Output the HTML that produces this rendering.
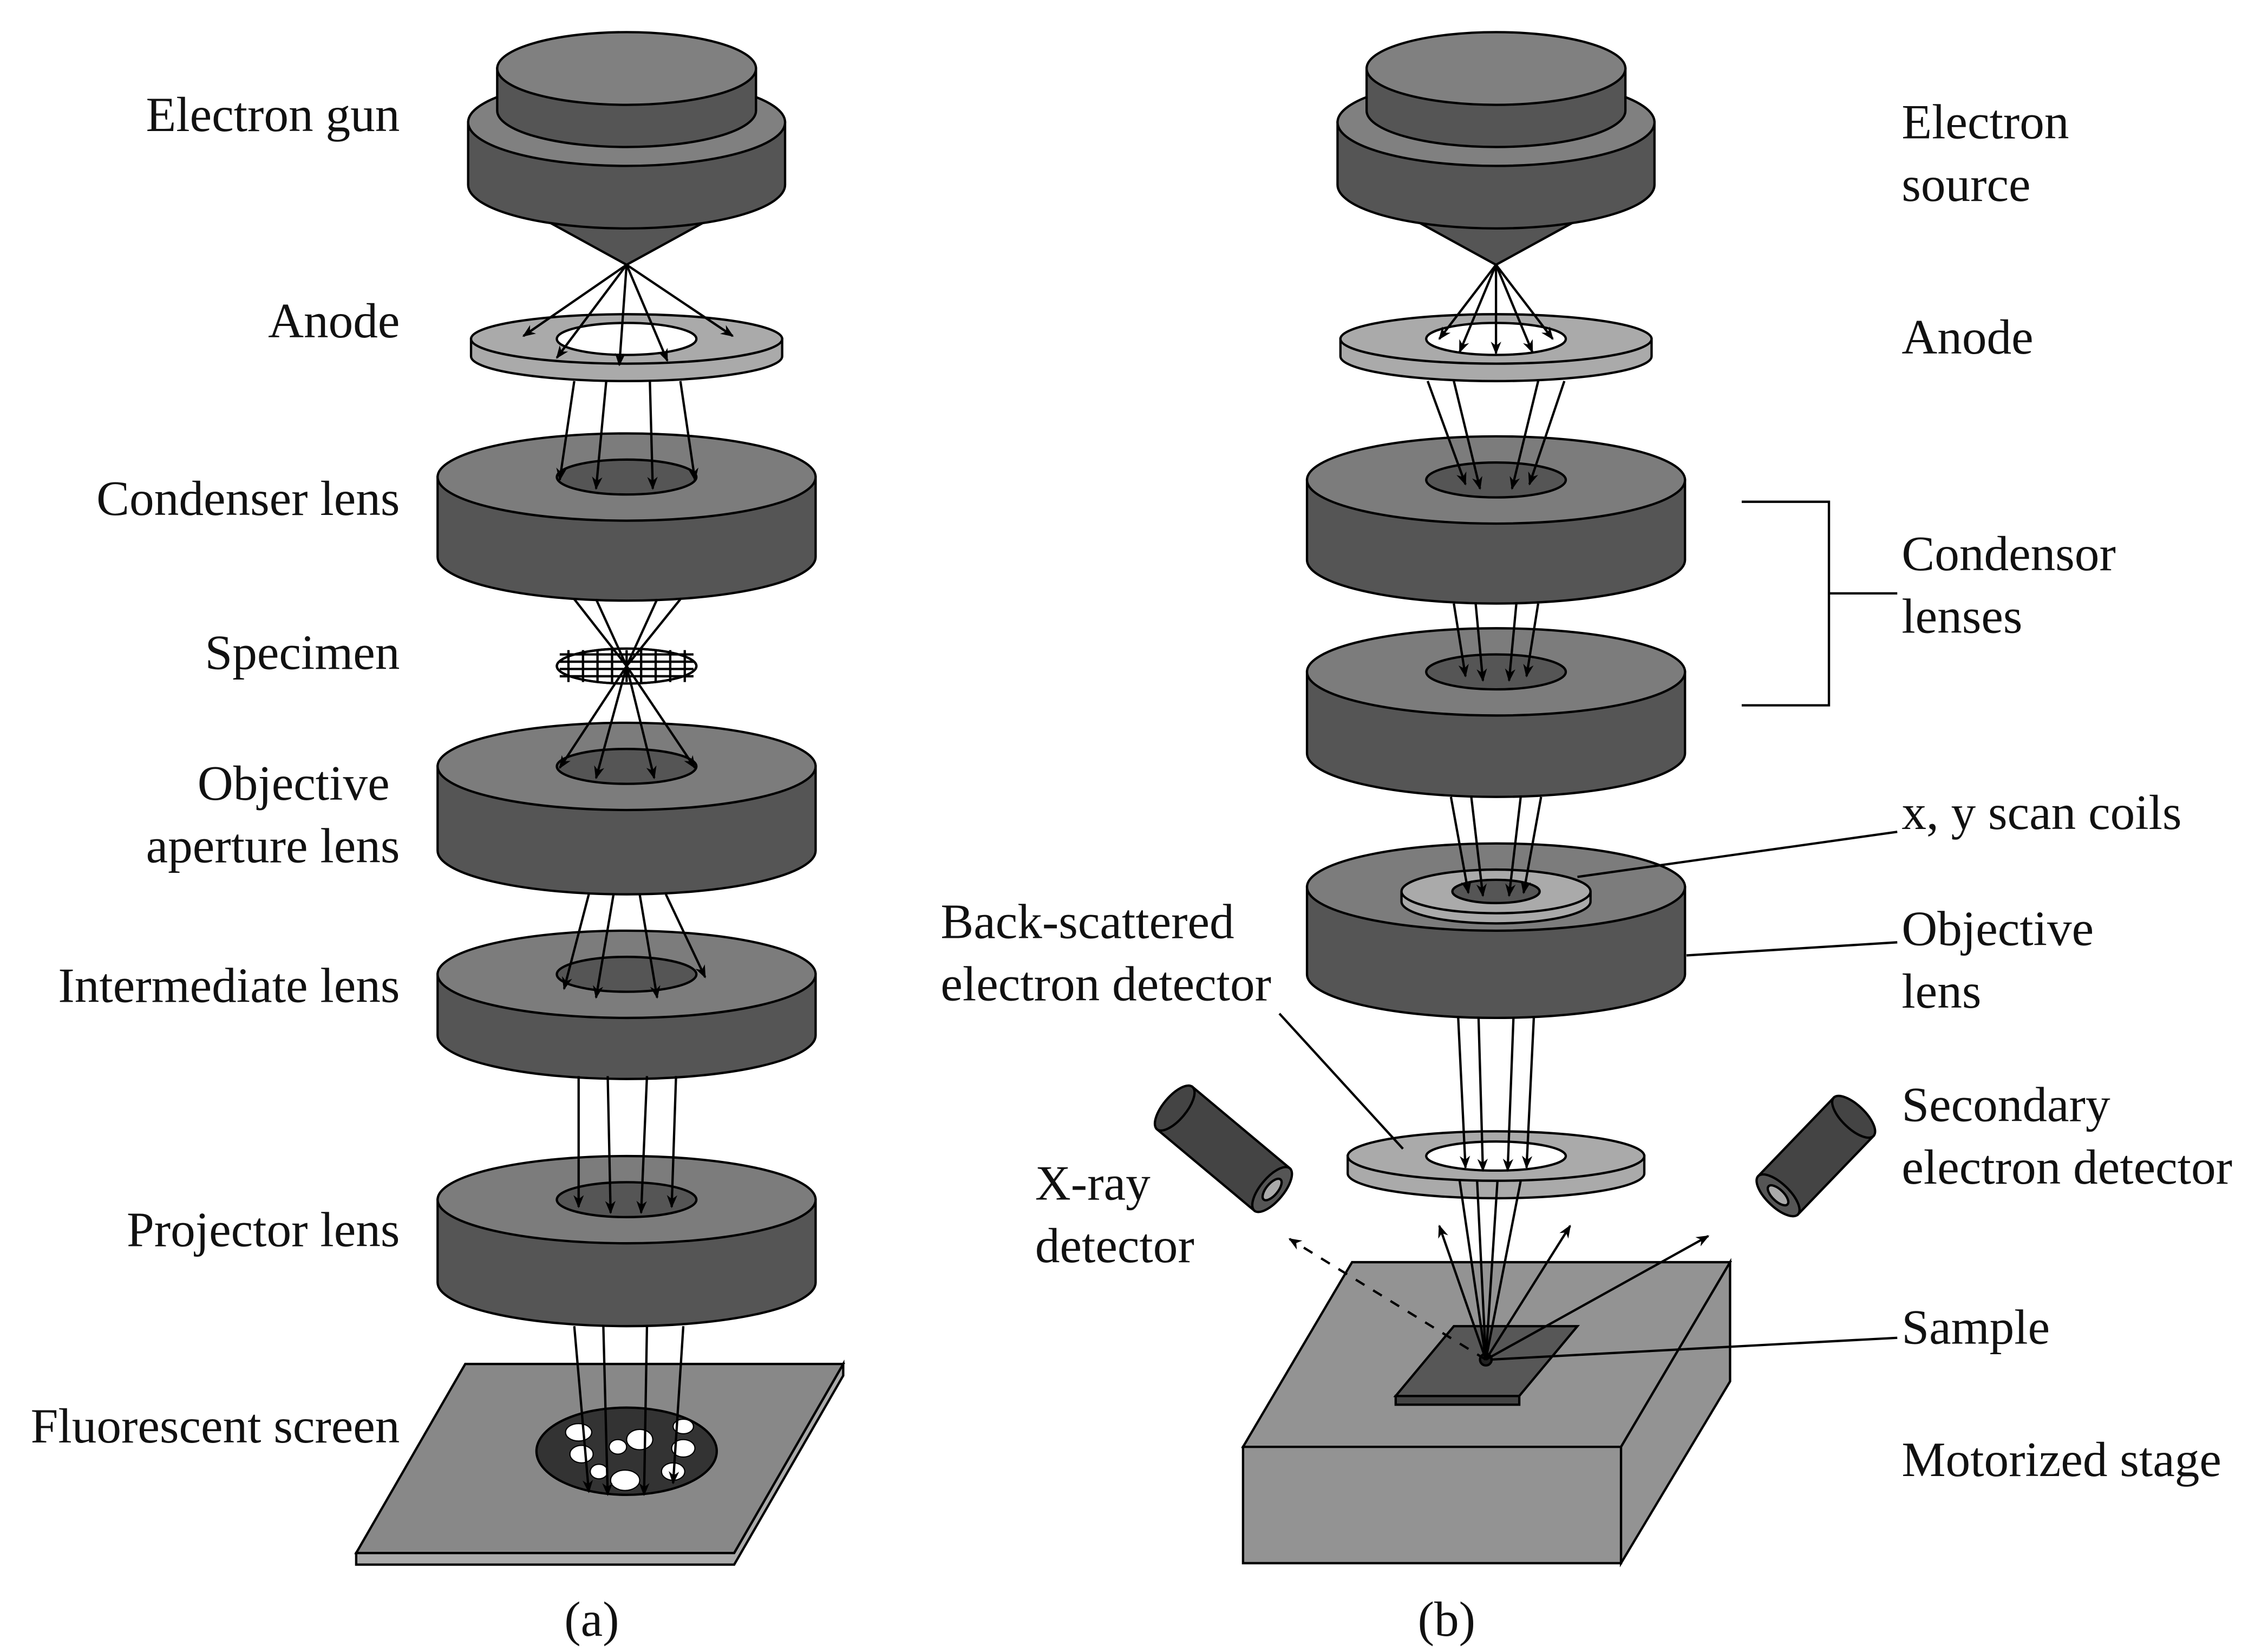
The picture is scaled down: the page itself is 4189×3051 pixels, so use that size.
<!DOCTYPE html>
<html><head><meta charset="utf-8"><style>
html,body{margin:0;padding:0;background:#fff;}
svg{display:block;}
text{font-family:"Liberation Serif",serif;font-size:34px;fill:#111;}
</style></head><body>
<svg id="s" width="4189" height="3051" viewBox="0 0 1560 1136" xmlns="http://www.w3.org/2000/svg">
<defs>
<marker id="ah" viewBox="0 0 10 10" refX="9" refY="5" markerWidth="9" markerHeight="9" markerUnits="userSpaceOnUse" orient="auto">
<path d="M0,1 L10,5 L0,9 L3,5 Z" fill="#000"/></marker>
</defs>
<g id="g" stroke="#000" stroke-width="1.6"></g>
<g>
<text x="275" y="90" text-anchor="end">Electron gun</text>
<text x="275" y="232" text-anchor="end">Anode</text>
<text x="275" y="354" text-anchor="end">Condenser lens</text>
<text x="275" y="460" text-anchor="end">Specimen</text>
<text x="268" y="550" text-anchor="end">Objective</text>
<text x="275" y="593" text-anchor="end">aperture lens</text>
<text x="275" y="689" text-anchor="end">Intermediate lens</text>
<text x="275" y="857" text-anchor="end">Projector lens</text>
<text x="275" y="992" text-anchor="end">Fluorescent screen</text>
<text x="407" y="1125" text-anchor="middle">(a)</text>
<text x="1308" y="95">Electron</text>
<text x="1308" y="138">source</text>
<text x="1308" y="243">Anode</text>
<text x="1308" y="392">Condensor</text>
<text x="1308" y="435">lenses</text>
<text x="1308" y="570">x, y scan coils</text>
<text x="1308" y="650">Objective</text>
<text x="1308" y="693">lens</text>
<text x="647" y="645">Back-scattered</text>
<text x="647" y="688">electron detector</text>
<text x="1308" y="771">Secondary</text>
<text x="1308" y="814">electron detector</text>
<text x="712" y="825">X-ray</text>
<text x="712" y="868">detector</text>
<text x="1308" y="924">Sample</text>
<text x="1308" y="1015">Motorized stage</text>
<text x="995" y="1125" text-anchor="middle">(b)</text>
</g>
</svg>
<script>
var g=document.getElementById('g'),NS='http://www.w3.org/2000/svg';
function el(t,a){var e=document.createElementNS(NS,t);for(var k in a)e.setAttribute(k,a[k]);g.appendChild(e);return e;}
function cyl(cx,yt,rx,ry,h,top,side){
 el('path',{d:'M'+(cx-rx)+','+yt+' L'+(cx-rx)+','+(yt+h)+' A'+rx+' '+ry+' 0 0 0 '+(cx+rx)+','+(yt+h)+' L'+(cx+rx)+','+yt+' Z',fill:side});
 el('ellipse',{cx:cx,cy:yt,rx:rx,ry:ry,fill:top});}
function ln(x1,y1,x2,y2,arr,dash){var a={x1:x1,y1:y1,x2:x2,y2:y2};if(arr)a['marker-end']='url(#ah)';if(dash)a['stroke-dasharray']='7,7';el('line',a);}
function gun(cx){
 el('path',{d:'M'+(cx-62)+',148 L'+cx+',182 L'+(cx+62)+',148 Z',fill:'#555'});
 cyl(cx,84,109,30,43,'#808080','#555');
 cyl(cx,47,89,25,29,'#808080','#555');}
function lens(cx,top,h){cyl(cx,top+30,130,30,h,'#7c7c7c','#555');el('ellipse',{cx:cx,cy:top+30,rx:48,ry:12,fill:'#555'});}
function anode(cx,cy,rx,ry,hx,hy){cyl(cx,cy,rx,ry,12,'#aaa','#aaa');el('ellipse',{cx:cx,cy:cy,rx:hx,ry:hy,fill:'#fff'});}
var A=431;
gun(A);
anode(A,233,107,17,48,11);
[[360,231],[383,246],[426,251],[459,248],[504,231]].forEach(function(p){ln(A,182,p[0],p[1],1);});
lens(A,298,55);
[[395,262,385,330],[417,262,410,336],[447,262,449,336],[468,262,478,330]].forEach(function(p){ln(p[0],p[1],p[2],p[3],1);});
el('ellipse',{cx:A,cy:458,rx:48,ry:12,fill:'#fff'});
for(var i=-40;i<=40;i+=10)ln(A+i,447,A+i,469);
for(var j=-8;j<=8;j+=5)ln(A-46,458+j,A+46,458+j);
el('ellipse',{cx:A,cy:458,rx:48,ry:12,fill:'none'});
ln(395,412,A,458);ln(468,412,A,458);ln(410,412,A,458);ln(452,412,A,458);
lens(A,497,58);
[[385,528],[410,535],[450,535],[478,528]].forEach(function(p){ln(A,458,p[0],p[1],1);});
lens(A,640,42);
[[405,615,388,680],[422,615,410,686],[440,615,452,686],[458,615,485,672]].forEach(function(p){ln(p[0],p[1],p[2],p[3],1);});
lens(A,795,57);
[[398,740,398,830],[418,740,420,834],[445,740,441,834],[465,740,462,830]].forEach(function(p){ln(p[0],p[1],p[2],p[3],1);});
el('path',{d:'M245,1068 L505,1068 L580,938 L580,946 L505,1076 L245,1076 Z',fill:'#aaa'});
el('path',{d:'M245,1068 L505,1068 L580,938 L320,938 Z',fill:'#888'});
el('ellipse',{cx:A,cy:998,rx:62,ry:30,fill:'#333'});
[[398,985,9,6],[440,990,9,7],[470,996,8,6],[400,1000,8,6],[430,1018,10,7],[463,1012,8,6],[425,995,6,5],[470,981,7,5],[412,1012,6,5]].forEach(function(s){el('ellipse',{cx:s[0],cy:s[1],rx:s[2],ry:s[3],fill:'#fff','stroke-width':0.8});});
[[395,912,405,1026],[415,912,418,1028],[445,912,443,1028],[470,912,463,1020]].forEach(function(p){ln(p[0],p[1],p[2],p[3],1);});
var B=1029;
gun(B);
anode(B,233,107,17,48,11);
[[990,233],[1004,242],[1029,243],[1054,242],[1068,233]].forEach(function(p){ln(B,182,p[0],p[1],1);});
lens(B,300,55);
[[982,262,1008,333],[1000,262,1018,336],[1058,262,1040,336],[1076,262,1052,333]].forEach(function(p){ln(p[0],p[1],p[2],p[3],1);});
lens(B,432,56);
[[1000,415,1008,465],[1015,415,1020,468],[1043,415,1038,468],[1058,415,1050,465]].forEach(function(p){ln(p[0],p[1],p[2],p[3],1);});
lens(B,580,60);
el('path',{d:'M964,613 L964,620 A65 15 0 0 0 1094,620 L1094,613',fill:'#aaa'});
el('ellipse',{cx:B,cy:613,rx:65,ry:15,fill:'#aaa'});
el('ellipse',{cx:B,cy:613,rx:30,ry:8,fill:'#555'});
[[998,548,1010,614],[1012,548,1020,616],[1046,548,1038,616],[1060,548,1048,614]].forEach(function(p){ln(p[0],p[1],p[2],p[3],1);});
anode(B,795,102,17,48,10);
[[1003,700,1008,803],[1017,700,1020,805],[1041,700,1037,805],[1055,700,1050,803]].forEach(function(p){ln(p[0],p[1],p[2],p[3],1);});
el('path',{d:'M855,995 L1115,995 L1190,868 L930,868 Z',fill:'#939393'});
el('path',{d:'M855,995 L1115,995 L1115,1075 L855,1075 Z',fill:'#939393'});
el('path',{d:'M1115,995 L1190,868 L1190,950 L1115,1075 Z',fill:'#939393'});
el('path',{d:'M960,960 L1045,960 L1045,966 L960,966 Z',fill:'#444'});
el('path',{d:'M960,960 L1045,960 L1085,912 L1000,912 Z',fill:'#575757'});
el('circle',{cx:1022,cy:935,r:4,fill:'#222'});
[[1004,812],[1016,812],[1030,812],[1046,812]].forEach(function(p){ln(p[0],p[1],1022,935);});
ln(1022,935,990,843,1);ln(1022,935,1080,843,1);ln(1022,935,1175,850,1);
ln(1022,935,887,852,1,1);
function det(x1,y1,x2,y2){var dx=x2-x1,dy=y2-y1,L=Math.hypot(dx,dy),nx=-dy/L*19,ny=dx/L*19;
 el('path',{d:'M'+(x1+nx)+','+(y1+ny)+' L'+(x2+nx)+','+(y2+ny)+' L'+(x2-nx)+','+(y2-ny)+' L'+(x1-nx)+','+(y1-ny)+' Z',fill:'#444'});
 var ang=Math.atan2(dy,dx)*180/Math.PI;
 el('ellipse',{cx:x1,cy:y1,rx:8,ry:19,fill:'#444',transform:'rotate('+ang+' '+x1+' '+y1+')'});
 el('ellipse',{cx:x2,cy:y2,rx:8,ry:19,fill:'#555',transform:'rotate('+ang+' '+x2+' '+y2+')'});
 el('ellipse',{cx:x2,cy:y2,rx:4,ry:9,fill:'#aaa',transform:'rotate('+ang+' '+x2+' '+y2+')'});}
det(808,762,875,818);det(1275,768,1223,822);
ln(1305,572,1085,603);ln(1305,648,1160,657);ln(880,697,965,790);ln(1305,920,1025,935);
el('path',{d:'M1198,345 L1258,345 L1258,485 L1198,485 M1258,408 L1305,408',fill:'none'});
</script>
</body></html>
